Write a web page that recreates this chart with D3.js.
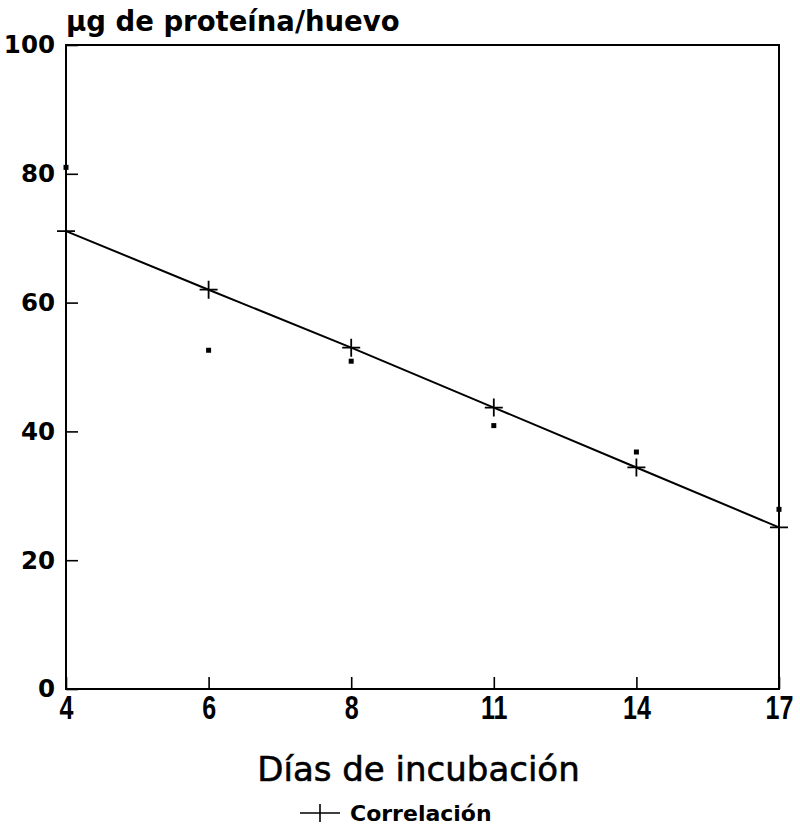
<!DOCTYPE html>
<html>
<head>
<meta charset="utf-8">
<script src="https://cdn.jsdelivr.net/npm/d3@7"></script>
<style>
  body { margin: 0; background: #fff; }
  svg { display: block; }
</style>
</head>
<body>
<div id="chart"></div>
<script>
// Data
const days = ["4", "6", "8", "11", "14", "17"];
const measured = [81.0, 52.6, 50.9, 40.9, 36.8, 27.9];     // small squares
const correlation = [71.1, 62.0, 53.0, 43.7, 34.4, 25.1];  // fitted line (crosses)
const yTicks = [0, 20, 40, 60, 80, 100];

const W = 800, H = 839;
const margin = {top: 45, right: 21, bottom: 150, left: 66},
    width = W - margin.left - margin.right,
    height = H - margin.top - margin.bottom;

const svg = d3.select("#chart")
    .append("svg")
    .attr("width", W)
    .attr("height", H);

const g = svg.append("g")
    .attr("transform", `translate(${margin.left},${margin.top})`);

const x = d3.scalePoint()
    .domain(days)
    .range([0, width]);

const y = d3.scaleLinear()
    .domain([0, 100])
    .range([height, 0]);

const dejavu = "'DejaVu Sans', Verdana, sans-serif";
const lib = "'Liberation Sans', Arial, sans-serif";

// frame
g.append("rect")
    .attr("x", 0).attr("y", 0)
    .attr("width", width).attr("height", height)
    .attr("fill", "none")
    .attr("stroke", "#000")
    .attr("stroke-width", 2);

// y axis, ticks pointing inward
const yAxis = g.append("g")
    .call(d3.axisLeft(y).tickValues(yTicks).tickSizeInner(-12).tickSizeOuter(0).tickPadding(11));
yAxis.select(".domain").remove();
yAxis.selectAll("line").attr("stroke-width", 1.6);
yAxis.selectAll("text")
    .style("font", `bold 24.5px ${dejavu}`)
    .attr("fill", "#000");

// x axis, ticks pointing up, condensed labels
const xAxis = g.append("g")
    .attr("transform", `translate(0,${height})`)
    .call(d3.axisBottom(x).tickSizeInner(-12).tickSizeOuter(0).tickPadding(7));
xAxis.select(".domain").remove();
xAxis.selectAll("line").attr("stroke-width", 1.6);
xAxis.selectAll("text")
    .style("font", `bold 33px ${lib}`)
    .attr("transform", "scale(0.76,1)")
    .attr("fill", "#000");

// y title
svg.append("text")
    .attr("x", margin.left)
    .attr("y", 31)
    .style("font", `bold 27.5px ${dejavu}`)
    .text("µg de proteína/huevo");

// x title
svg.append("text")
    .attr("x", margin.left + width / 2 - 4)
    .attr("y", 781)
    .attr("text-anchor", "middle")
    .attr("stroke", "#000")
    .attr("stroke-width", 0.6)
    .style("font", `34px ${dejavu}`)
    .text("Días de incubación");

// fitted line
const line = d3.line()
    .x((d, i) => x(days[i]))
    .y(d => y(d));

g.append("path")
    .datum(correlation)
    .attr("fill", "none")
    .attr("stroke", "#000")
    .attr("stroke-width", 2)
    .attr("d", line);

// crosses
const cross = s => `M${-s},0H${s}M0,${-s}V${s}`;
g.selectAll(".cross")
    .data(correlation)
    .join("path")
    .attr("class", "cross")
    .attr("transform", (d, i) => `translate(${x(days[i])},${y(d)})`)
    .attr("d", cross(9))
    .attr("stroke", "#000")
    .attr("stroke-width", 1.8)
    .attr("fill", "none");

// measured points
g.selectAll(".pt")
    .data(measured)
    .join("rect")
    .attr("class", "pt")
    .attr("x", (d, i) => x(days[i]) - 2.5)
    .attr("y", d => y(d) - 2.5)
    .attr("width", 5)
    .attr("height", 5)
    .attr("fill", "#000");

// legend
const leg = svg.append("g").attr("transform", "translate(300,813)");
leg.append("path")
    .attr("d", "M0,0H40M20,-9V9")
    .attr("stroke", "#000")
    .attr("stroke-width", 1.6);
leg.append("text")
    .attr("x", 50)
    .attr("y", 8)
    .style("font", `bold 22px ${dejavu}`)
    .text("Correlación");
</script>
</body>
</html>
